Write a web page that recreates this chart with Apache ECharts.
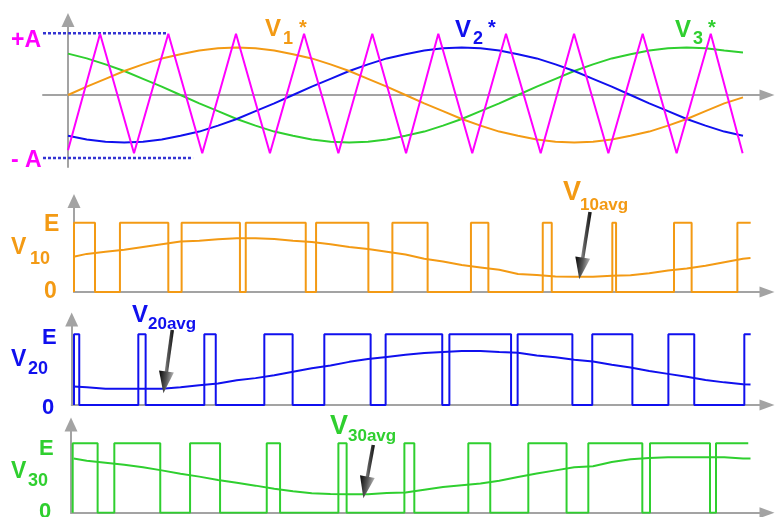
<!DOCTYPE html>
<html>
<head>
<meta charset="utf-8">
<script src="https://cdn.jsdelivr.net/npm/echarts@6/dist/echarts.min.js"></script>
<style>
  html, body { margin: 0; padding: 0; background: #fff; }
  #chart { width: 775px; height: 517px; }
</style>
</head>
<body>
<div id="chart"></div>
<script>
// Sinusoidal PWM: three reference phases compared with a triangular carrier,
// and the resulting leg voltages with their running averages.
// Time is in electrical degrees; one fundamental period spans 0..360.

// ---- reference voltages (per unit of carrier amplitude A) ----
const refT   = [0,10,20,30,40,50,60,70,80,90,100,110,120,130,140,150,160,170,180,190,200,210,220,230,240,250,260,270,280,290,300,310,320,330,340,350,360];
const v1Ref  = [0,.14,.27,.40,.51,.61,.68,.74,.78,.79,.78,.74,.68,.61,.51,.40,.27,.14,0,-.14,-.27,-.40,-.51,-.61,-.68,-.74,-.78,-.79,-.78,-.74,-.68,-.61,-.51,-.40,-.27,-.14,-.04];
const v2Ref  = [-.68,-.74,-.78,-.79,-.78,-.74,-.68,-.61,-.51,-.40,-.27,-.14,0,.14,.27,.40,.51,.61,.68,.74,.78,.79,.78,.74,.68,.61,.51,.40,.27,.14,0,-.14,-.27,-.40,-.51,-.61,-.68];
const v3Ref  = [.69,.61,.51,.40,.27,.14,0,-.14,-.27,-.40,-.51,-.61,-.68,-.74,-.78,-.79,-.78,-.74,-.68,-.61,-.51,-.40,-.27,-.14,0,.14,.27,.40,.51,.61,.68,.74,.78,.79,.78,.74,.71];

// ---- triangular carrier (vertex times and levels) ----
const carrierT = [0,17.1,35.2,53.5,71.6,89.6,107.7,125.9,144.2,162.3,180.3,197.5,215.6,233.6,252.1,269.9,288.2,306.5,324.6,342.8,359.8];
const carrierV = [-0.92,1.02,-0.97,1.02,-0.97,1.02,-0.97,1.02,-0.97,1.02,-0.97,1.02,-0.97,1.02,-0.97,1.02,-0.97,1.02,-0.97,1.02,-0.97];

// ---- +A / -A marker lines ----
const plusAT  = [-16, 53.3];
const minusAT = [-16, 66.7];
const plusA   = 1.03;
const minusA  = -1.05;

// ---- leg voltages: switching instants (each toggles the level, starting at E) ----
const v10Span  = [3.2, 364.1];
const v10Edges = [14.4,27.7,53.5,60.6,91.7,94.8,126.8,132.3,160.2,173.0,191.8,214.9,224.2,253.2,258.0,290.3,292.3,323.2,332.6,357.0];
const v20Span  = [3.2, 364.1];
const v20Edges = [6.0,37.5,41.4,72.7,78.8,104.7,119.8,136.7,161.4,169.4,199.6,203.4,236.3,239.8,269.0,279.6,301.0,320.2,334.0,360.7];
const v30Span  = [2.5, 362.8];
const v30Edges = [15.8,24.7,49.2,65.1,81.1,106.0,113.1,144.2,148.6,179.4,184.7,213.5,225.2,245.5,265.9,277.5,306.3,310.4,342.4,345.6];

// ---- averaged leg voltages (per unit of E) ----
const avgT   = [3,10,20,30,40,50,60,70,80,90,100,110,120,130,140,150,160,170,180,190,200,210,220,230,240,250,260,270,280,290,300,310,320,330,340,350,360,364];
const v10Avg = [.51,.55,.58,.61,.65,.69,.73,.74,.76,.775,.775,.765,.74,.72,.69,.65,.62,.58,.54,.48,.44,.39,.355,.32,.26,.245,.225,.22,.22,.235,.24,.27,.31,.34,.38,.43,.48,.49];
const v20Avg = [.26,.25,.23,.23,.23,.23,.25,.28,.305,.35,.38,.42,.47,.52,.56,.61,.65,.68,.71,.735,.75,.765,.765,.75,.74,.70,.675,.64,.615,.57,.53,.48,.44,.40,.355,.32,.295,.29];
const v30Avg = [.78,.75,.72,.69,.655,.61,.56,.52,.47,.43,.39,.345,.31,.28,.27,.265,.265,.285,.29,.33,.37,.395,.42,.46,.515,.565,.61,.655,.67,.73,.77,.79,.80,.80,.80,.80,.78,.78];

// ---- colours ----
const ORANGE = '#f39a14', BLUE = '#1010ee', GREEN = '#2fcf2f', MAGENTA = '#ff00ff', DOTS = '#3434d2', GRAY = '#a3a3a3';

// ---- layout helpers ----
const PX = 1.875;          // pixels per degree (shared by all panels)
const T_END = 372.8;       // right end of every time axis
const zip = (xs, ys) => xs.map((x, i) => [x, ys[i]]);

function pwmPoints(span, edges) {
  const pts = [[span[0], 0], [span[0], 1]];
  let lvl = 1;
  edges.forEach(t => { pts.push([t, lvl]); lvl = 1 - lvl; pts.push([t, lvl]); });
  pts.push([span[1], lvl]);
  return pts;
}

function grid(left, tMin, top, height) {
  return { left: left, top: top, height: height, width: (T_END - tMin) * PX, containLabel: false };
}
function xAx(i, min) {
  return { type: 'value', gridIndex: i, min: min, max: T_END,
    axisLine: { show: true, onZero: true, symbol: ['none', 'triangle'], symbolSize: [11, 15], lineStyle: { color: GRAY, width: 2 } },
    axisTick: { show: false }, axisLabel: { show: false }, splitLine: { show: false } };
}
function yAx(i, min, max) {
  return { type: 'value', gridIndex: i, min: min, max: max,
    axisLine: { show: true, onZero: true, symbol: ['none', 'triangle'], symbolSize: [13, 14], lineStyle: { color: GRAY, width: 2 } },
    axisTick: { show: false }, axisLabel: { show: false }, splitLine: { show: false } };
}
function line(i, data, color, width, extra) {
  return Object.assign({ type: 'line', xAxisIndex: i, yAxisIndex: i, data: data, showSymbol: false, symbol: 'none',
    lineStyle: { color: color, width: width }, itemStyle: { color: color }, silent: true, animation: false }, extra || {});
}
function pointer(tail, head) {
  return { silent: true, animation: false, symbol: ['none', 'triangle'], symbolSize: [15, 22], label: { show: false },
    lineStyle: { type: 'solid', width: 3.5, color: { type: 'linear', x: 0, y: 0, x2: 1, y2: 0,
      colorStops: [{ offset: 0, color: '#b4b4b4' }, { offset: 0.45, color: '#555' }, { offset: 1, color: '#050505' }] } },
    emphasis: { disabled: true }, data: [[{ coord: tail }, { coord: head }]] };
}
function txt(text, x, y, size, color) {
  return { type: 'text', x: x, y: y, silent: true, z: 100,
    style: { text: text, fill: color, font: 'bold ' + size + 'px "Liberation Sans", Arial, sans-serif',
      align: 'left', verticalAlign: 'middle', textAlign: 'left', textVerticalAlign: 'middle' } };
}

const option = {
  backgroundColor: '#fff',
  animation: false,
  grid: [
    grid(43, -13.33, 20, 147),
    grid(74, 3.2, 201, 91),
    grid(71.7, 1.97, 319.5, 85.5),
    grid(71, 1.6, 424.5, 88.2)
  ],
  xAxis: [xAx(0, -13.33), xAx(1, 3.2), xAx(2, 1.97), xAx(3, 1.6)],
  yAxis: [yAx(0, -1.2, 1.25), yAx(1, 0, 1.313), yAx(2, 0, 1.209), yAx(3, 0, 1.271)],
  series: [
    line(0, zip(plusAT, [plusA, plusA]), DOTS, 2.5, { clip: false, lineStyle: { color: DOTS, width: 2.5, type: [3, 2] } }),
    line(0, zip(minusAT, [minusA, minusA]), DOTS, 2.5, { clip: false, lineStyle: { color: DOTS, width: 2.5, type: [3, 2] } }),
    line(0, zip(refT, v3Ref), GREEN, 2),
    line(0, zip(refT, v2Ref), BLUE, 2),
    line(0, zip(refT, v1Ref), ORANGE, 2),
    line(0, zip(carrierT, carrierV), MAGENTA, 2),

    line(1, pwmPoints(v10Span, v10Edges), ORANGE, 2),
    line(1, zip(avgT, v10Avg), ORANGE, 2, { markLine: pointer([278.4, 1.155], [273.6, 0.34]) }),

    line(2, pwmPoints(v20Span, v20Edges), BLUE, 2),
    line(2, zip(avgT, v20Avg), BLUE, 2, { markLine: pointer([55.6, 1.06], [51.7, 0.32]) }),

    line(3, pwmPoints(v30Span, v30Edges), GREEN, 2),
    line(3, zip(avgT, v30Avg), GREEN, 2, { markLine: pointer([162.8, 0.975], [158.6, 0.363]) })
  ],
  graphic: [
    txt('+A', 11, 41, 23, MAGENTA),
    txt('- A', 11, 161, 23, MAGENTA),

    txt('V', 265, 29, 24, ORANGE), txt('1', 283, 39, 18, ORANGE), txt('*', 299, 28, 20, ORANGE),
    txt('V', 455, 30, 24, BLUE),   txt('2', 473, 39, 18, BLUE),   txt('*', 488, 28, 20, BLUE),
    txt('V', 675, 30, 24, GREEN),  txt('3', 693, 39, 18, GREEN),  txt('*', 708, 28, 20, GREEN),

    txt('E', 44, 225, 23, ORANGE), txt('V', 11, 248, 23, ORANGE), txt('10', 30, 259, 18, ORANGE), txt('0', 44, 292, 23, ORANGE),
    txt('V', 563, 193, 27, ORANGE), txt('10avg', 580, 205, 17, ORANGE),

    txt('E', 42, 338, 22, BLUE), txt('V', 11, 360, 23, BLUE), txt('20', 28, 369, 18, BLUE), txt('0', 42, 408, 22, BLUE),
    txt('V', 132, 315, 24, BLUE), txt('20avg', 148, 324, 17, BLUE),

    txt('E', 39, 449, 22, GREEN), txt('V', 11, 472, 23, GREEN), txt('30', 28, 481, 18, GREEN), txt('0', 39, 512, 22, GREEN),
    txt('V', 330, 427, 27, GREEN), txt('30avg', 348, 436, 17, GREEN)
  ]
};

const chart = echarts.init(document.getElementById('chart'), null, { renderer: 'canvas' });
chart.setOption(option);
</script>
</body>
</html>
